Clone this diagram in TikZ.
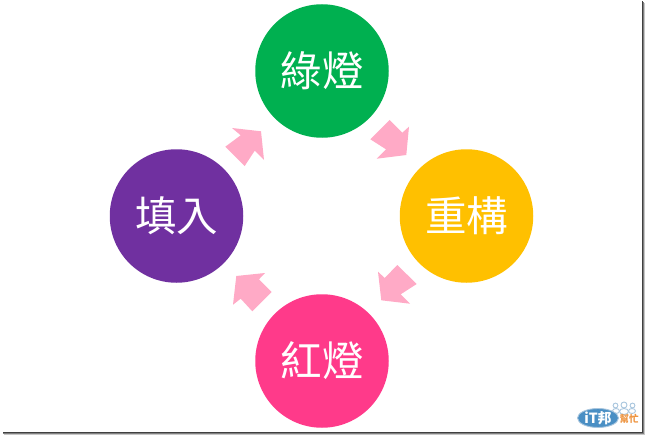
\documentclass[tikz,border=0pt]{standalone}
\usepackage{fontspec}
\newfontfamily\cjk{Noto Sans CJK TC}
\definecolor{cgreen}{HTML}{00B050}
\definecolor{cyellow}{HTML}{FFC000}
\definecolor{cpink}{HTML}{FF3A8A}
\definecolor{cpurple}{HTML}{7030A0}
\definecolor{carrow}{HTML}{FFAAC6}
\definecolor{logoblue}{HTML}{4A8FC4}
\definecolor{logoorange}{HTML}{EE9440}
\definecolor{logoline}{HTML}{A9C6DE}
\begin{document}
\begin{tikzpicture}[x=1pt,y=-1pt,
  stage/.style={circle,minimum size=133.5pt,inner sep=0pt,text=white,font=\cjk\fontsize{41.5}{42}\selectfont},
  pinkarrow/.style={fill=carrow,draw=none},
  person/.style={draw=logoline,fill=white,line width=0.9pt}]
\useasboundingbox (0,0) rectangle (646,436);
\fill[white] (0,0) rectangle (646,436);
% page shadow
\fill[black!75] (642,1) rectangle (643.2,433.2);
\fill[black!75] (3,432) rectangle (643.2,433.2);
\fill[black!50] (643.2,2) rectangle (644.2,434.2);
\fill[black!50] (3,433.2) rectangle (644.2,434.2);
\fill[black!22] (644.2,3) rectangle (645.2,435.2);
\fill[black!22] (4,434.2) rectangle (645.2,435.2);
% stages
\node[stage,fill=cgreen] (green) at (322,71) {綠燈};
\node[stage,fill=cyellow] (yellow) at (466.5,216) {重構};
\node[stage,fill=cpink] (pink) at (322,361) {紅燈};
\node[stage,fill=cpurple] (purple) at (176.5,216) {填入};
% arrows
\fill[pinkarrow] (232,128) -- (261,131.3) -- (264,160) -- (254.7,150.7) -- (244.7,166) -- (225.3,146.7) -- (240.7,135.3) -- cycle;
\fill[pinkarrow] (409,126.7) -- (406.3,155) -- (376.7,158.7) -- (386,149.3) -- (370.3,139.3) -- (389.7,120) -- (402.3,132.7) -- cycle;
\fill[pinkarrow] (378,271.7) -- (381.3,300.3) -- (410,303.7) -- (400.7,294.3) -- (416.7,284) -- (397.3,265) -- (384.7,278) -- cycle;
\fill[pinkarrow] (265,273) -- (236.3,276) -- (233,304.7) -- (240.7,298.7) -- (252.3,311.3) -- (271.7,292) -- (259,279.3) -- cycle;
% logo: people
\draw[person] (616,411) ellipse (3.5 and 2.5);
\draw[person] (632,411) ellipse (3.5 and 2.5);
\draw[person] (615.5,405.5) circle (2.4);
\draw[person] (632.5,405.5) circle (2.4);
\draw[person] (624,411.5) ellipse (4.5 and 3);
\draw[person] (624,405) circle (3);
% logo: oval
\fill[logoblue,draw=logoline,line width=0.9pt] (598,418) ellipse (20.5 and 9.5);
\node[text=white,font=\cjk\bfseries\itshape\fontsize{14}{14}\selectfont,inner sep=0pt] (logoa) at (598,418) {iT邦};
\node[text=logoorange,font=\cjk\bfseries\fontsize{9.5}{10}\selectfont,inner sep=0pt] (logob) at (629,419) {幫忙};
\end{tikzpicture}
\end{document}
